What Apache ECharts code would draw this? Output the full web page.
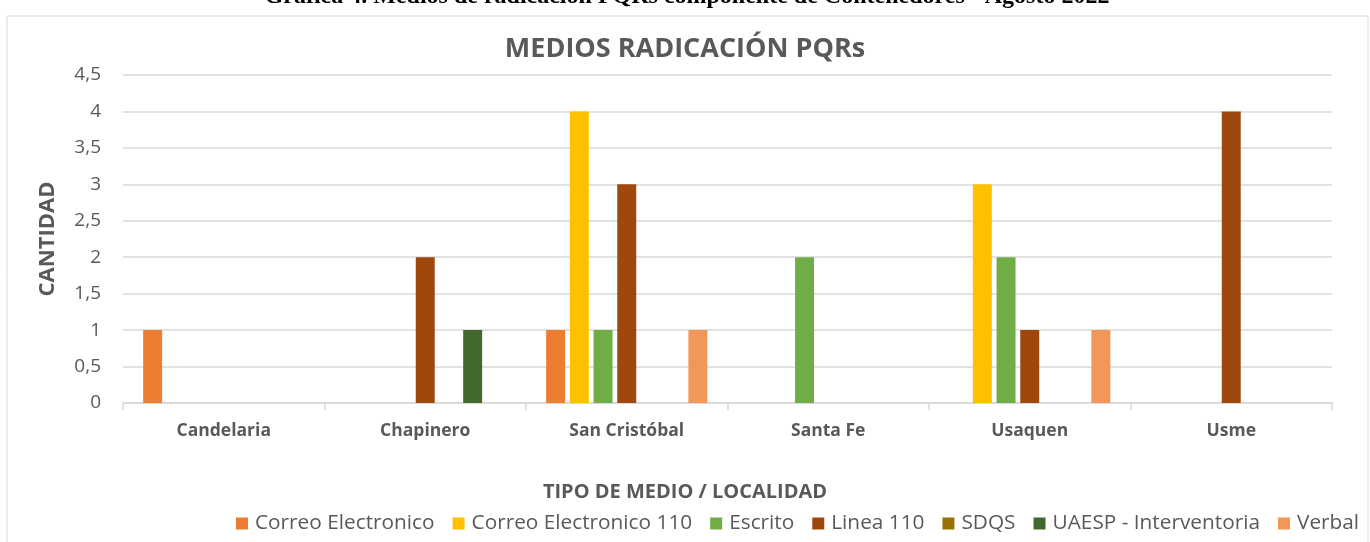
<!DOCTYPE html>
<html>
<head>
<meta charset="utf-8">
<script src="https://cdn.jsdelivr.net/npm/echarts@6/dist/echarts.min.js"></script>
<style>
  html, body { margin: 0; padding: 0; background: #fff; }
  #chart { width: 1370px; height: 542px; }
</style>
</head>
<body>
<div id="chart"></div>
<script>
// Categories (localidades)
const localidades = ["Candelaria", "Chapinero", "San Cristóbal", "Santa Fe", "Usaquen", "Usme"];

// Series values per medio
const correoElectronico = [1, 0, 1, 0, 0, 0];
const correoElectronico110 = [0, 0, 4, 0, 3, 0];
const escrito = [0, 0, 1, 2, 2, 0];
const linea110 = [0, 2, 3, 0, 1, 4];
const sdqs = [0, 0, 0, 0, 0, 0];
const uaespInterventoria = [0, 1, 0, 0, 0, 0];
const verbal = [0, 0, 1, 0, 1, 0];

const seriesNames = ["Correo Electronico", "Correo Electronico 110", "Escrito", "Linea 110", "SDQS", "UAESP - Interventoria", "Verbal"];
const seriesData = [correoElectronico, correoElectronico110, escrito, linea110, sdqs, uaespInterventoria, verbal];
const seriesColors = ["#ED7D31", "#FFC000", "#70AD47", "#9E480E", "#997300", "#43682B", "#F1975A"];

const FONT = "'Open Sans', sans-serif";
const GREY = "#595959";

const chart = echarts.init(document.getElementById("chart"));

const option = {
  animation: false,
  backgroundColor: "#fff",
  textStyle: { fontFamily: FONT },
  title: [
    {
      text: "MEDIOS RADICACIÓN PQRs",
      left: "center",
      top: 31,
      textStyle: { fontFamily: FONT, fontSize: 27, fontWeight: "bold", color: GREY },
    },
    // x axis title is centred on the whole chart, not on the plot
    {
      text: "TIPO DE MEDIO / LOCALIDAD",
      left: "center",
      top: 477,
      textStyle: { fontFamily: FONT, fontSize: 20, fontWeight: "bold", color: GREY },
    },
  ],
  graphic: [
    {
      type: "rect",
      shape: { x: 7, y: 16, width: 1361, height: 560 },
      style: { fill: "none", stroke: "#d9d9d9", lineWidth: 1 },
      silent: true,
    },
    {
      type: "text",
      x: 687,
      y: -15,
      style: {
        text: "Gráfica 4. Medios de radicación PQRs componente de Contenedores - Agosto 2022",
        font: "bold 24px 'Liberation Serif', serif",
        fill: "#000",
        align: "center",
        verticalAlign: "top",
      },
      silent: true,
    },
  ],
  legend: {
    left: 236,
    top: 513,
    padding: 0,
    width: 1134,
    itemWidth: 12,
    itemHeight: 12,
    itemGap: 18,
    icon: "rect",
    textStyle: { fontFamily: FONT, fontSize: 20.8, color: GREY, padding: [0, 0, 0, 2] },
    data: seriesNames,
  },
  grid: { left: 123, right: 38, top: 75, bottom: 139 },
  xAxis: {
    type: "category",
    data: localidades,
    axisLine: { lineStyle: { color: "#d9d9d9", width: 1.5 } },
    axisTick: { show: true, length: 7, lineStyle: { color: "#d9d9d9", width: 1.5 } },
    axisLabel: { margin: 19, fontFamily: FONT, fontSize: 17.5, fontWeight: "bold", color: GREY },
  },
  yAxis: {
    type: "value",
    min: 0,
    max: 4.5,
    interval: 0.5,
    name: "CANTIDAD",
    nameLocation: "middle",
    nameGap: 64,
    nameTextStyle: { fontFamily: FONT, fontSize: 22, fontWeight: "bold", color: GREY },
    axisLine: { show: false },
    axisTick: { show: false },
    splitLine: { lineStyle: { color: "#d9d9d9", width: 1.5 } },
    axisLabel: {
      margin: 22,
      fontFamily: FONT,
      fontSize: 19,
      color: GREY,
      formatter: (v) => String(v).replace(".", ","),
    },
  },
  series: seriesNames.map((name, i) => ({
    name: name,
    type: "bar",
    data: seriesData[i],
    barGap: "25%",
    barCategoryGap: "20%",
    itemStyle: { color: seriesColors[i] },
  })),
};

chart.setOption(option);
</script>
</body>
</html>
